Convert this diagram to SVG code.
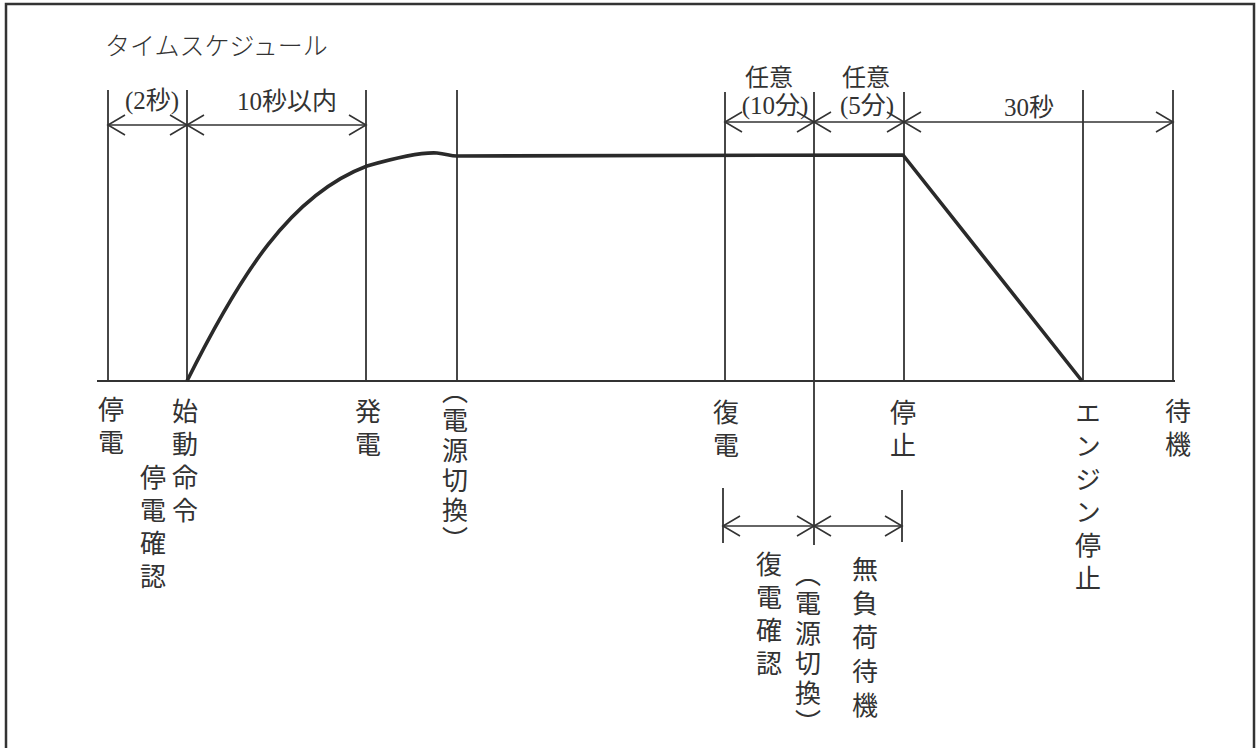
<svg xmlns="http://www.w3.org/2000/svg" width="1256" height="748" viewBox="0 0 1256 748">
<defs>
<marker id="ah" markerUnits="userSpaceOnUse" markerWidth="24" markerHeight="24" viewBox="-20 -12 24 24" refX="0" refY="0" orient="auto-start-reverse">
<path d="M-17,-10 L0,0 L-17,10" fill="none" stroke="#333" stroke-width="1.6"/>
</marker>
<style>
.ln{stroke:#333;stroke-width:1.8;fill:none}
.dim{stroke:#333;stroke-width:1.6;fill:none;marker-start:url(#ah);marker-end:url(#ah)}
.crv{stroke:#2a2a2a;stroke-width:3.6;fill:none;stroke-linejoin:round}
.h{font-family:"Liberation Serif","Noto Sans CJK JP",serif;font-size:25px;fill:#333;text-anchor:middle}
.t{font-family:"Noto Sans CJK JP",sans-serif;font-size:25px;fill:#333;font-weight:300}
.v{font-family:"Noto Sans CJK JP",sans-serif;font-size:26px;fill:#333;writing-mode:vertical-rl;letter-spacing:7px}
.vp{font-feature-settings:"vpal";letter-spacing:4px}
</style>
</defs>
<rect x="6" y="4" width="1248" height="770" fill="#fff" stroke="#333" stroke-width="2.5"/>
<g id="title"><text class="t" x="105" y="55">タイムスケジュール</text></g>
<g id="axes">
<line class="ln" x1="97" y1="381" x2="1175" y2="381" stroke-width="2.2"/>
<line class="ln" x1="108" y1="90" x2="108" y2="381"/>
<line class="ln" x1="187" y1="90" x2="187" y2="381"/>
<line class="ln" x1="366" y1="90" x2="366" y2="381"/>
<line class="ln" x1="457" y1="90" x2="457" y2="381"/>
<line class="ln" x1="725" y1="92" x2="725" y2="381"/>
<line class="ln" x1="814" y1="92" x2="814" y2="545"/>
<line class="ln" x1="904" y1="92" x2="904" y2="381"/>
<line class="ln" x1="1083" y1="90" x2="1083" y2="381"/>
<line class="ln" x1="1173" y1="90" x2="1173" y2="381"/>
<line class="ln" x1="723" y1="488" x2="723" y2="543"/>
<line class="ln" x1="902" y1="490" x2="902" y2="542"/>
</g>
<g id="curve">
<path class="crv" d="M187,381 C240,275 290,195 367,166 C395,158 420,152 437,153 C447,154 450,156 457,156 L903,155 L1082,381"/>
</g>
<g id="connectors">
<line class="dim" x1="108" y1="125" x2="187" y2="125"/>
<line class="dim" x1="187" y1="125" x2="366" y2="125"/>
<line class="dim" x1="725" y1="122" x2="814" y2="122"/>
<line class="dim" x1="814" y1="122" x2="904" y2="122"/>
<line class="dim" x1="904" y1="122" x2="1173" y2="122"/>
<line class="dim" x1="723" y1="526" x2="814" y2="526"/>
<line class="dim" x1="814" y1="526" x2="902" y2="526"/>
</g>
<g id="dim-labels">
<text class="h" x="152" y="109">(2秒)</text>
<text class="h" x="287" y="110">10秒以内</text>
<text class="h" x="769" y="86" style="font-size:24px">任意</text>
<text class="h" x="775" y="114">(10分)</text>
<text class="h" x="866" y="86" style="font-size:24px">任意</text>
<text class="h" x="867" y="114">(5分)</text>
<text class="h" x="1029" y="116">30秒</text>
</g>
<g id="label-teiden"><text class="v" x="111" y="396">停電</text></g>
<g id="label-shidou"><text class="v" x="185" y="398">始動命令</text></g>
<g id="label-teiden-kakunin"><text class="v" x="153" y="464">停電確認</text></g>
<g id="label-hatsuden"><text class="v" x="368" y="398">発電</text></g>
<g id="label-kirikae1"><text class="v vp" x="455" y="390">（電源切換）</text></g>
<g id="label-fukuden"><text class="v" x="726" y="399">復電</text></g>
<g id="label-teishi"><text class="v" x="903" y="399">停止</text></g>
<g id="label-engine"><text class="v" x="1088" y="400">エンジン停止</text></g>
<g id="label-taiki"><text class="v" x="1178" y="398">待機</text></g>
<g id="label-fukuden-kakunin"><text class="v" x="769" y="551">復電確認</text></g>
<g id="label-kirikae2"><text class="v vp" x="808" y="573">（電源切換）</text></g>
<g id="label-mufuka"><text class="v" x="865" y="556" style="letter-spacing:8px">無負荷待機</text></g>
</svg>
